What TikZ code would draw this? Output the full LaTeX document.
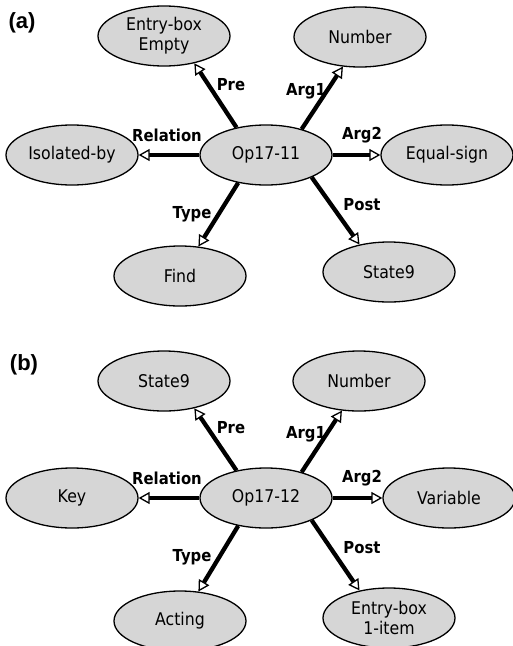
\documentclass[tikz,border=0pt]{standalone}
\usepackage{fontspec}
\setmainfont{DejaVu Sans}[FakeStretch=0.9]
\newfontfamily\panelfont{Liberation Sans}
\usetikzlibrary{shapes.geometric,arrows.meta}

\definecolor{conceptgray}{RGB}{214,214,214}
\tikzset{
  concept/.style={ellipse,draw=black,line width=1.3pt,fill=conceptgray,
    minimum width=132pt,minimum height=60pt,inner sep=0pt,align=center,
    font=\fontsize{17.5}{20}\selectfont},
  rel/.style={line width=4.3pt,
    -{Triangle[length=11pt,width=12pt,fill=white,line width=1.3pt]}},
  rellabel/.style={inner sep=0pt,font=\bfseries\fontsize{16.5}{19}\selectfont},
  panel/.style={inner sep=0pt,font=\panelfont\bfseries\fontsize{22}{26}\selectfont}
}

\begin{document}
\begin{tikzpicture}[x=1pt,y=-1pt]
  \useasboundingbox[fill=white] (0,0) rectangle (513,646);

  % -=-=-=-=- (a) OPERATOR Op17-11 -=-=-=-=-
  \node[panel] (pa) at (22,23) {(a)};
  \node[concept] (opa) at (266,155) {Op17-11};
  \node[concept] (enta) at (164,36) {Entry-box\\Empty};
  \node[concept] (numa) at (360,37) {Number};
  \node[concept] (isoa) at (72,155) {Isolated-by};
  \node[concept] (eqsa) at (447,155) {Equal-sign};
  \node[concept] (finda) at (180,276) {Find};
  \node[concept] (stata) at (389,272) {State9};

  \node[rellabel] (prea) at (231,85) {Pre};
  \node[rellabel] (arg1a) at (306,91) {Arg1};
  \node[rellabel] (rela) at (167,135) {Relation};
  \node[rellabel] (arg2a) at (362,135) {Arg2};
  \node[rellabel] (typea) at (192,214) {Type};
  \node[rellabel] (posta) at (362,205) {Post};

  \draw[rel] (opa.137) -- (enta.-42);
  \draw[rel] (opa.36) -- (numa.-120);
  \draw[rel] (opa.west) -- (isoa.east);
  \draw[rel] (opa.east) -- (eqsa.west);
  \draw[rel] (opa.-135) -- (finda.58);
  \draw[rel] (opa.-26) -- (stata.137);

  % -=-=-=-=- (b) OPERATOR Op17-12 -=-=-=-=-
  \node[panel] (pb) at (24,365) {(b)};
  \node[concept] (opb) at (266,498) {Op17-12};
  \node[concept] (statb) at (164,381) {State9};
  \node[concept] (numb) at (359,381) {Number};
  \node[concept] (keyb) at (72,498) {Key};
  \node[concept] (varb) at (449,498) {Variable};
  \node[concept] (actb) at (180,621) {Acting};
  \node[concept] (entb) at (389,618) {Entry-box\\1-item};

  \node[rellabel] (preb) at (231,428) {Pre};
  \node[rellabel] (arg1b) at (306,434) {Arg1};
  \node[rellabel] (relb) at (167,478) {Relation};
  \node[rellabel] (arg2b) at (362,478) {Arg2};
  \node[rellabel] (typeb) at (192,557) {Type};
  \node[rellabel] (postb) at (362,548) {Post};

  \draw[rel] (opb.137) -- (statb.-42);
  \draw[rel] (opb.36) -- (numb.-120);
  \draw[rel] (opb.west) -- (keyb.east);
  \draw[rel] (opb.east) -- (varb.west);
  \draw[rel] (opb.-135) -- (actb.58);
  \draw[rel] (opb.-26) -- (entb.137);
\end{tikzpicture}
\end{document}
